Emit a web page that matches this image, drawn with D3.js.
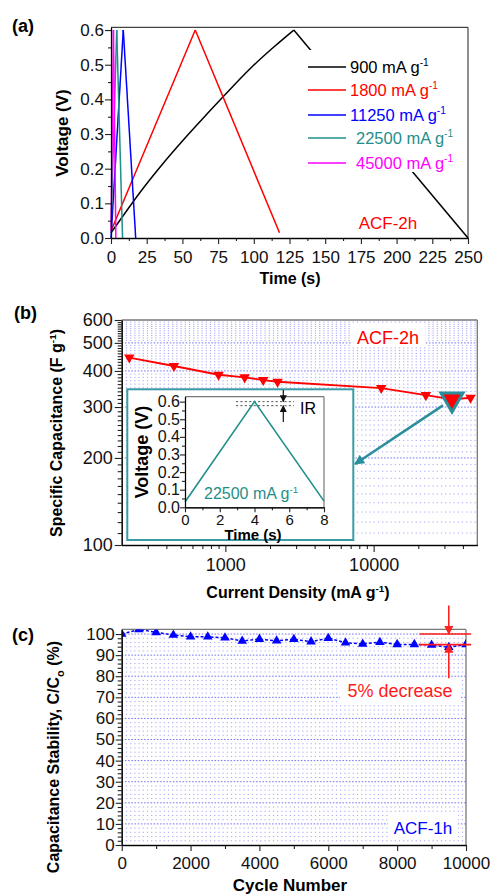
<!DOCTYPE html>
<html>
<head>
<meta charset="utf-8">
<script src="https://cdn.jsdelivr.net/npm/d3@7"></script>
<style>
  body { margin: 0; background: #fff; }
  svg { display: block; }
</style>
</head>
<body>
<svg id="fig" width="492" height="894"></svg>
<script>
// ---------- (a) charge/discharge curves of ACF-2h ----------
const rateLabels = ["900 mA g", "1800 mA g", "11250 mA g", " 22500 mA g", " 45000 mA g"];
const rateColors = ["#000000", "#ff0000", "#0000ff", "#1f8f8a", "#ff00ff"];
const time900  = [0, 10, 20, 35, 50, 65, 80, 97, 114, 128, 250];
const volt900  = [0.015, 0.073, 0.13, 0.208, 0.28, 0.348, 0.414, 0.487, 0.551, 0.6, 0.0];
const time1800 = [0, 59, 118];
const volt1800 = [0.02, 0.6, 0.015];
const time11250 = [0, 8.6, 17.3];
const volt11250 = [0.0, 0.6, 0.0];
const time22500 = [0, 4.0, 8.1];
const volt22500 = [0.03, 0.6, 0.0];
const time45000 = [0, 1.7, 3.4];
const volt45000 = [0.02, 0.6, 0.0];
const timeTicksA = [0, 25, 50, 75, 100, 125, 150, 175, 200, 225, 250];
const voltTicksA = [0, 0.1, 0.2, 0.3, 0.4, 0.5, 0.6];

// ---------- (b) rate capability ----------
const currentDensity = [225, 450, 900, 1350, 1800, 2250, 11250, 22500, 33750, 45000];
const specCap = [445, 416, 388, 380, 372, 367, 349, 330, 319, 323];
const densityTicks = [1000, 10000];
const capTicks = [100, 200, 300, 400, 500, 600];
// inset: single cycle at 22500 mA g-1
const insetTime = [0, 4, 8];
const insetVolt = [0.03, 0.6, 0.035];
const insetTimeTicks = [0, 2, 4, 6, 8];
const insetVoltTicks = [0, 0.1, 0.2, 0.3, 0.4, 0.5, 0.6];
const irLevels = [0.6, 0.577];

// ---------- (c) cycling stability of ACF-1h ----------
const cycles = [0, 500, 1000, 1500, 2000, 2500, 3000, 3500, 4000, 4500, 5000,
                5500, 6000, 6500, 7000, 7500, 8000, 8500, 9000, 9500, 10000];
const retention = [100, 102.2, 100.8, 99.5, 98.7, 98.7, 98.2, 96.7, 97.6, 96.8, 97.5,
                   96.4, 98.0, 95.9, 95.3, 96.1, 95.1, 95.1, 94.8, 93.7, 95.1];
const cycleTicks = [0, 2000, 4000, 6000, 8000, 10000];
const retentionTicks = [0, 10, 20, 30, 40, 50, 60, 70, 80, 90, 100];
const decreaseLevels = [100, 95];

const FONT = '"Liberation Sans", Arial, Helvetica, sans-serif';
const svg = d3.select("#fig");
const defs = svg.append("defs");

// ---------- helpers ----------
function styleAxis(g, size, bold) {
  g.select(".domain").attr("stroke", "#222").attr("stroke-width", 1.3);
  g.selectAll(".tick line").attr("stroke", "#222").attr("stroke-width", 1.1);
  g.selectAll(".tick text").attr("font-family", FONT).attr("font-size", size)
    .attr("fill", "#111").attr("font-weight", bold ? "bold" : "normal");
}
function minorAxis(axisFn, scale, values, len) {
  return axisFn(scale).tickValues(values).tickSize(len).tickFormat("").tickSizeOuter(0);
}
function supText(parent, x, y, main, sup, tail, opt) {
  const t = parent.append("text").attr("x", x).attr("y", y)
    .attr("font-family", FONT).attr("font-size", opt.size)
    .attr("fill", opt.color || "#000")
    .attr("font-weight", opt.bold ? "bold" : "normal")
    .attr("text-anchor", opt.anchor || "start");
  if (opt.transform) t.attr("transform", opt.transform);
  t.append("tspan").text(main);
  t.append("tspan").attr("dy", -opt.size * 0.4).attr("font-size", opt.size * 0.62).text(sup);
  if (tail) t.append("tspan").attr("dy", opt.size * 0.4).text(tail);
  return t;
}
function label(x, y, txt, size, opt = {}) {
  return svg.append("text").attr("x", x).attr("y", y).text(txt)
    .attr("font-family", FONT).attr("font-size", size)
    .attr("font-weight", opt.bold ? "bold" : "normal")
    .attr("fill", opt.color || "#000")
    .attr("text-anchor", opt.anchor || "start")
    .attr("transform", opt.transform || null);
}
function arrowMarker(id, color, w, h) {
  defs.append("marker").attr("id", id).attr("viewBox", "0 0 10 10")
    .attr("refX", 9).attr("refY", 5).attr("markerWidth", w).attr("markerHeight", h)
    .attr("markerUnits", "userSpaceOnUse").attr("orient", "auto")
    .append("path").attr("d", "M0,0 L10,5 L0,10 Z").attr("fill", color);
}
arrowMarker("arrTeal", "#2a8f9a", 12, 10);
arrowMarker("arrRed", "#ff2020", 9, 9);
arrowMarker("arrBlack", "#111", 7, 7);

// ============ Panel (a) ============
const xA = d3.scaleLinear().domain([0, 250]).range([111, 468]);
const yA = d3.scaleLinear().domain([0, 0.608]).range([238, 27.3]);

svg.append("line").attr("x1", xA(0)).attr("x2", xA(250)).attr("y1", yA(0.608)).attr("y2", yA(0.608))
  .attr("stroke", "#444").attr("stroke-width", 1.2);
svg.append("line").attr("x1", xA(250)).attr("x2", xA(250)).attr("y1", yA(0.608)).attr("y2", yA(0))
  .attr("stroke", "#444").attr("stroke-width", 1.2);

const gcd = [
  [time900, volt900], [time1800, volt1800], [time11250, volt11250],
  [time22500, volt22500], [time45000, volt45000]
];
// charge branch drawn smooth, discharge branch straight
const chargeLine = d3.line().x(d => xA(d[0])).y(d => yA(d[1])).curve(d3.curveMonotoneX);
const dischargeLine = d3.line().x(d => xA(d[0])).y(d => yA(d[1]));
gcd.forEach((s, i) => {
  const pts = s[0].map((t, k) => [t, s[1][k]]);
  const peak = d3.maxIndex(pts, d => d[1]);
  const g = svg.append("g").attr("fill", "none").attr("stroke", rateColors[i])
    .attr("stroke-width", 1.5).attr("stroke-linejoin", "round");
  g.append("path").attr("d", chargeLine(pts.slice(0, peak + 1)));
  g.append("path").attr("d", dischargeLine(pts.slice(peak)));
});

// legend with opaque background
svg.append("rect").attr("x", 303).attr("y", 50).attr("width", 164).attr("height", 122).attr("fill", "#fff");
const legendRows = [67, 90, 115, 138, 163];
rateLabels.forEach((lab, i) => {
  svg.append("line").attr("x1", 308).attr("x2", 346).attr("y1", legendRows[i]).attr("y2", legendRows[i])
    .attr("stroke", rateColors[i]).attr("stroke-width", 1.6);
  const tx = lab.startsWith(" ") ? 356 : 350;
  supText(svg, tx, legendRows[i] + 6, lab.trim(), "-1", null, { size: 16.5, color: rateColors[i] });
});
label(388, 229, "ACF-2h", 17, { color: "#ff0000", anchor: "middle" });

const gxA = svg.append("g").attr("transform", `translate(0,${yA(0)})`);
gxA.call(minorAxis(d3.axisBottom, xA, d3.range(12.5, 250, 25), 3));
gxA.append("g").call(d3.axisBottom(xA).tickValues(timeTicksA).tickSize(6).tickSizeOuter(0).tickFormat(d3.format("d")));
styleAxis(gxA, 17);
gxA.selectAll(".tick text").attr("dy", "0.95em");

const gyA = svg.append("g").attr("transform", `translate(${xA(0)},0)`);
gyA.call(minorAxis(d3.axisLeft, yA, d3.range(0.05, 0.6, 0.1), 3));
gyA.append("g").call(d3.axisLeft(yA).tickValues(voltTicksA).tickSize(6).tickSizeOuter(0).tickFormat(d3.format(".1f")));
styleAxis(gyA, 17);
gyA.selectAll(".tick text").attr("x", -7);

label(290, 284, "Time (s)", 16, { bold: true, anchor: "middle" });
label(0, 0, "Voltage (V)", 17, { bold: true, anchor: "middle", transform: "translate(68,133) rotate(-90)" });
label(12, 32, "(a)", 18, { bold: true });

// ============ Panel (b) ============
const xB = d3.scaleLog().domain([200, 50000]).range([121.7, 477.3]);
const yB = d3.scaleLog().domain([100, 600]).range([545, 320]);

// dotted grid
const capMinor = d3.range(110, 600, 10).filter(v => v % 100 !== 0);
const gridB = svg.append("g");
capMinor.forEach(v => {
  gridB.append("line").attr("x1", xB(200)).attr("x2", xB(50000)).attr("y1", yB(v)).attr("y2", yB(v))
    .attr("stroke", "#5b5bf0").attr("stroke-opacity", 0.55).attr("stroke-width", 1)
    .attr("stroke-dasharray", "1.2,3");
});
[200, 300, 400, 500].forEach(v => {
  gridB.append("line").attr("x1", xB(200)).attr("x2", xB(50000)).attr("y1", yB(v)).attr("y2", yB(v))
    .attr("stroke", "#4a4af0").attr("stroke-opacity", 0.75).attr("stroke-width", 1)
    .attr("stroke-dasharray", "1.6,1.6");
});

svg.append("line").attr("x1", xB(200)).attr("x2", xB(50000)).attr("y1", yB(600)).attr("y2", yB(600))
  .attr("stroke", "#777").attr("stroke-width", 1.3);
svg.append("line").attr("x1", xB(50000)).attr("x2", xB(50000)).attr("y1", yB(600)).attr("y2", yB(100))
  .attr("stroke", "#777").attr("stroke-width", 1.3);

// ACF-2h tag with white backing
svg.append("rect").attr("x", 352).attr("y", 323).attr("width", 73).attr("height", 24).attr("fill", "#fff");
label(388, 344, "ACF-2h", 18, { color: "#ff0000", anchor: "middle" });

const ptsB = currentDensity.map((c, i) => [c, specCap[i]]);
svg.append("path").attr("d", d3.line().x(d => xB(d[0])).y(d => yB(d[1]))(ptsB))
  .attr("fill", "none").attr("stroke", "#ff0000").attr("stroke-width", 1.8);
const downTri = d3.symbol().type(d3.symbolTriangle);
svg.append("g").selectAll("path").data(ptsB).join("path")
  .attr("d", downTri.size(48)())
  .attr("transform", d => `translate(${xB(d[0])},${yB(d[1])}) rotate(180)`)
  .attr("fill", "#ff0000");

// inset panel
svg.append("rect").attr("x", 127.3).attr("y", 389.3).attr("width", 226).attr("height", 150.7)
  .attr("fill", "#fff").attr("stroke", "#3a9aa6").attr("stroke-width", 2);
const xI = d3.scaleLinear().domain([0, 8]).range([185, 324]);
const yI = d3.scaleLinear().domain([0, 0.628]).range([507.3, 396.7]);
svg.append("line").attr("x1", xI(0)).attr("x2", xI(8)).attr("y1", yI(0.628)).attr("y2", yI(0.628))
  .attr("stroke", "#777").attr("stroke-width", 1.2);
svg.append("line").attr("x1", xI(8)).attr("x2", xI(8)).attr("y1", yI(0.628)).attr("y2", yI(0))
  .attr("stroke", "#777").attr("stroke-width", 1.2);
irLevels.forEach(v => {
  svg.append("line").attr("x1", 236).attr("x2", 294).attr("y1", yI(v)).attr("y2", yI(v))
    .attr("stroke", "#555").attr("stroke-width", 1).attr("stroke-dasharray", "2.2,2.2");
});
svg.append("path").attr("d", d3.line().x((d, i) => xI(insetTime[i])).y((d, i) => yI(insetVolt[i]))(insetTime))
  .attr("fill", "none").attr("stroke", "#1f8f8a").attr("stroke-width", 1.6);

const gxI = svg.append("g").attr("transform", `translate(0,${yI(0)})`);
gxI.call(minorAxis(d3.axisBottom, xI, [1, 3, 5, 7], 3));
gxI.append("g").call(d3.axisBottom(xI).tickValues(insetTimeTicks).tickSize(5).tickSizeOuter(0).tickFormat(d3.format("d")));
styleAxis(gxI, 15);
gxI.selectAll(".tick text").attr("dy", "0.62em");
const gyI = svg.append("g").attr("transform", `translate(${xI(0)},0)`);
gyI.call(minorAxis(d3.axisLeft, yI, d3.range(0.05, 0.6, 0.1), 3));
gyI.append("g").call(d3.axisLeft(yI).tickValues(insetVoltTicks).tickSize(5).tickSizeOuter(0).tickFormat(d3.format(".1f")));
styleAxis(gyI, 16);
gyI.selectAll(".tick text").attr("x", -5);
label(0, 0, "Voltage (V)", 18, { bold: true, anchor: "middle", transform: "translate(148,452) rotate(-90)" });
label(253, 540, "Time (s)", 15, { bold: true, anchor: "middle" });
supText(svg, 204, 499, "22500 mA g", "-1", null, { size: 16, color: "#1f8f8a" });

// IR drop marker
svg.append("line").attr("x1", 283.3).attr("x2", 283.3).attr("y1", 390).attr("y2", yI(0.6))
  .attr("stroke", "#111").attr("stroke-width", 1.2).attr("marker-end", "url(#arrBlack)");
svg.append("line").attr("x1", 283.3).attr("x2", 283.3).attr("y1", 422).attr("y2", yI(0.577))
  .attr("stroke", "#111").attr("stroke-width", 1.2).attr("marker-end", "url(#arrBlack)");
label(300, 414, "IR", 16);

// highlighted point and pointer to the inset
const hx = xB(currentDensity[8]), hy = yB(specCap[8]);
svg.append("path").attr("d", downTri.size(210)())
  .attr("transform", `translate(${hx},${hy}) rotate(180)`)
  .attr("fill", "#ff0000").attr("stroke", "#2a8f9a").attr("stroke-width", 3).attr("stroke-linejoin", "miter");
svg.append("line").attr("x1", hx - 9).attr("y1", hy + 6).attr("x2", 355).attr("y2", 464)
  .attr("stroke", "#2a8f9a").attr("stroke-width", 2.6).attr("marker-end", "url(#arrTeal)");

const gxB = svg.append("g").attr("transform", `translate(0,${yB(100)})`);
const densMinor = [300, 400, 500, 600, 700, 800, 900, 2000, 3000, 4000, 5000, 6000, 7000, 8000, 9000,
                   20000, 30000, 40000];
gxB.call(minorAxis(d3.axisBottom, xB, densMinor, 4));
gxB.append("g").call(d3.axisBottom(xB).tickValues(densityTicks).tickSize(7).tickSizeOuter(0).tickFormat(d3.format("d")));
styleAxis(gxB, 18);
gxB.selectAll(".tick text").attr("dy", "0.9em");
const gyB = svg.append("g").attr("transform", `translate(${xB(200)},0)`);
gyB.call(minorAxis(d3.axisLeft, yB, capMinor, 4));
gyB.append("g").call(d3.axisLeft(yB).tickValues(capTicks).tickSize(7).tickSizeOuter(0).tickFormat(d3.format("d")));
styleAxis(gyB, 18);
gyB.selectAll(".tick text").attr("x", -9);

supText(svg, 298, 598, "Current Density (mA g", "-1", ")", { size: 16, bold: true, anchor: "middle" });
supText(svg, 0, 0, "Specific Capacitance (F g", "-1", ")",
  { size: 16, bold: true, anchor: "middle", transform: "translate(62,433) rotate(-90)" });
label(14, 319, "(b)", 18, { bold: true });

// ============ Panel (c) ============
const xC = d3.scaleLinear().domain([0, 10000]).range([121.7, 466]);
const yC = d3.scaleLinear().domain([0, 102.2]).range([845, 629.4]);

const gridC = svg.append("g");
d3.range(2, 102, 2).forEach(v => {
  const major = v % 10 === 0;
  gridC.append("line").attr("x1", xC(0)).attr("x2", xC(10000)).attr("y1", yC(v)).attr("y2", yC(v))
    .attr("stroke", major ? "#4a4af0" : "#5b5bf0")
    .attr("stroke-opacity", major ? 0.75 : 0.55).attr("stroke-width", 1)
    .attr("stroke-dasharray", major ? "1.6,1.6" : "1.2,3");
});
svg.append("line").attr("x1", xC(0)).attr("x2", xC(10000)).attr("y1", yC(102.2)).attr("y2", yC(102.2))
  .attr("stroke", "#777").attr("stroke-width", 1.3);
svg.append("line").attr("x1", xC(10000)).attr("x2", xC(10000)).attr("y1", yC(102.2)).attr("y2", yC(0))
  .attr("stroke", "#777").attr("stroke-width", 1.3);

svg.append("rect").attr("x", 340).attr("y", 679).attr("width", 120).attr("height", 24).attr("fill", "#fff");
label(400, 697, "5% decrease", 18, { color: "#ff1a1a", anchor: "middle" });
svg.append("rect").attr("x", 388).attr("y", 814).attr("width", 70).attr("height", 25).attr("fill", "#fff");
label(423, 834, "ACF-1h", 17, { color: "#0000ff", anchor: "middle" });

defs.append("clipPath").attr("id", "clipC").append("rect")
  .attr("x", xC(0)).attr("y", yC(102.2)).attr("width", xC(10000) - xC(0)).attr("height", yC(0) - yC(102.2));
const ptsC = cycles.map((c, i) => [c, retention[i]]);
const gC = svg.append("g").attr("clip-path", "url(#clipC)");
gC.append("path").attr("d", d3.line().x(d => xC(d[0])).y(d => yC(d[1]))(ptsC))
  .attr("fill", "none").attr("stroke", "#0000ff").attr("stroke-width", 1.5).attr("stroke-dasharray", "3,2");
gC.selectAll("path.pt").data(ptsC).join("path").attr("class", "pt")
  .attr("d", d3.symbol().type(d3.symbolTriangle).size(40)())
  .attr("transform", d => `translate(${xC(d[0])},${yC(d[1])})`)
  .attr("fill", "#0000ff");

// 5 % band markers
decreaseLevels.forEach(v => {
  svg.append("line").attr("x1", xC(8650)).attr("x2", xC(10150)).attr("y1", yC(v)).attr("y2", yC(v))
    .attr("stroke", "#ff1a1a").attr("stroke-width", 1.6);
});
svg.append("line").attr("x1", xC(9500)).attr("x2", xC(9500)).attr("y1", yC(113.5)).attr("y2", yC(100))
  .attr("stroke", "#ff1a1a").attr("stroke-width", 1.5).attr("marker-end", "url(#arrRed)");
svg.append("line").attr("x1", xC(9500)).attr("x2", xC(9500)).attr("y1", yC(79)).attr("y2", yC(95))
  .attr("stroke", "#ff1a1a").attr("stroke-width", 1.5).attr("marker-end", "url(#arrRed)");

const gxC = svg.append("g").attr("transform", `translate(0,${yC(0)})`);
gxC.call(minorAxis(d3.axisBottom, xC, d3.range(1000, 10000, 2000), 4));
gxC.append("g").call(d3.axisBottom(xC).tickValues(cycleTicks).tickSize(6).tickSizeOuter(0).tickFormat(d3.format("d")));
styleAxis(gxC, 17);
gxC.selectAll(".tick text").attr("dy", "0.9em");
const gyC = svg.append("g").attr("transform", `translate(${xC(0)},0)`);
gyC.call(minorAxis(d3.axisLeft, yC, d3.range(2, 102, 2).filter(v => v % 10 !== 0), 4));
gyC.append("g").call(d3.axisLeft(yC).tickValues(retentionTicks).tickSize(6).tickSizeOuter(0).tickFormat(d3.format("d")));
styleAxis(gyC, 17);
gyC.selectAll(".tick text").attr("x", -7);

label(290, 891, "Cycle Number", 17, { bold: true, anchor: "middle" });
const ty = svg.append("text").attr("text-anchor", "middle").attr("font-family", FONT)
  .attr("font-size", 16).attr("font-weight", "bold").attr("transform", "translate(59,757) rotate(-90)");
ty.append("tspan").text("Capacitance Stability, C/C");
ty.append("tspan").attr("dy", 5).attr("font-size", 11).text("o");
ty.append("tspan").attr("dy", -5).text(" (%)");
label(12, 641, "(c)", 18, { bold: true });
</script>
</body>
</html>
